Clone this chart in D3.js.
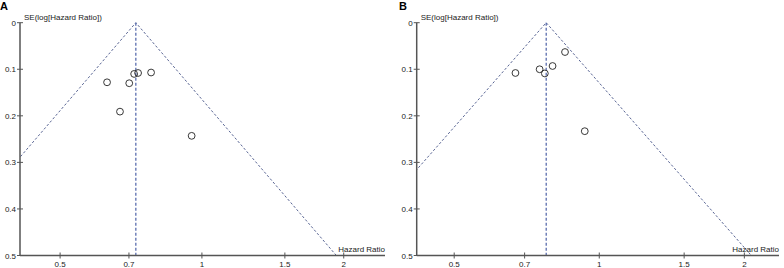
<!DOCTYPE html>
<html>
<head>
<meta charset="utf-8">
<script src="https://cdn.jsdelivr.net/npm/d3@7"></script>
<style>
  body { margin: 0; background: #fff; }
  text { font-family: "Liberation Sans", Arial, sans-serif; }
</style>
</head>
<body>
<script>
const WIDTH = 784;
const HEIGHT = 268;

// Estudios de cada panel (HR, SE del log HR)
const hrA = [0.629, 0.701, 0.718, 0.732, 0.780, 0.670, 0.951];
const seA = [0.128, 0.130, 0.110, 0.108, 0.107, 0.191, 0.243];
const pooledA = 0.724;

const hrB = [0.670, 0.752, 0.771, 0.800, 0.849, 0.933];
const seB = [0.108, 0.100, 0.109, 0.093, 0.063, 0.233];
const pooledB = 0.776;

const xTicks = [0.5, 0.7, 1, 1.5, 2];
const yTicks = [0, 0.1, 0.2, 0.3, 0.4, 0.5];

const SVG = d3.select("body")
  .append("svg")
  .attr("width", WIDTH)
  .attr("height", HEIGHT);

const dibujarPanel = (cfg) => {
  const x = d3.scaleLog().domain(cfg.dominio).range([cfg.left, cfg.right]);
  const y = d3.scaleLinear().domain([0, 0.5]).range([22.7, 255.5]);

  const g = SVG.append("g");

  // recorte del area del grafico
  const clipId = "clip" + cfg.label;
  g.append("clipPath").attr("id", clipId)
    .append("rect")
    .attr("x", cfg.left).attr("y", 0)
    .attr("width", cfg.right - cfg.left).attr("height", y(0.5));

  const lp = Math.log(cfg.pooled);
  const embudo = [
    [Math.exp(lp - 1.96 * 0.5), 0.5],
    [cfg.pooled, 0],
    [Math.exp(lp + 1.96 * 0.5), 0.5]
  ];
  const linea = d3.line().x((d) => x(d[0])).y((d) => y(d[1]));

  g.append("path")
    .attr("clip-path", `url(#${clipId})`)
    .attr("d", linea(embudo))
    .attr("fill", "none")
    .attr("stroke", "#5a6694")
    .attr("stroke-width", 1)
    .attr("stroke-dasharray", "2.5,2");

  g.append("line")
    .attr("x1", x(cfg.pooled)).attr("x2", x(cfg.pooled))
    .attr("y1", y(0)).attr("y2", y(0.5))
    .attr("stroke", "#4e62a8")
    .attr("stroke-width", 1.2)
    .attr("stroke-dasharray", "3,2");

  // ejes
  const colorEje = "#555";
  g.append("line")
    .attr("x1", cfg.left).attr("x2", cfg.left)
    .attr("y1", y(0)).attr("y2", y(0.5))
    .attr("stroke", colorEje).attr("stroke-width", 1.5);
  g.append("line")
    .attr("x1", cfg.left).attr("x2", cfg.right)
    .attr("y1", y(0.5)).attr("y2", y(0.5))
    .attr("stroke", colorEje).attr("stroke-width", 1.5);

  g.selectAll(".ty").data(yTicks).join("line")
    .attr("x1", cfg.left - 3).attr("x2", cfg.left + 3)
    .attr("y1", (d) => y(d)).attr("y2", (d) => y(d))
    .attr("stroke", colorEje).attr("stroke-width", 1);
  g.selectAll(".ly").data(yTicks).join("text")
    .attr("x", cfg.left - 4)
    .attr("y", (d) => y(d) + 3)
    .attr("text-anchor", "end")
    .attr("font-size", 8)
    .attr("fill", "#222")
    .text((d) => d === 0 ? "0" : d3.format(".1f")(d));

  g.selectAll(".tx").data(xTicks).join("line")
    .attr("x1", (d) => x(d)).attr("x2", (d) => x(d))
    .attr("y1", y(0.5) - 3).attr("y2", y(0.5) + 3)
    .attr("stroke", colorEje).attr("stroke-width", 1);
  g.selectAll(".lx").data(xTicks).join("text")
    .attr("x", (d) => x(d))
    .attr("y", 266.5)
    .attr("text-anchor", "middle")
    .attr("font-size", 8)
    .attr("fill", "#222")
    .text((d) => d);

  g.append("text")
    .attr("x", cfg.left + 4).attr("y", 20)
    .attr("font-size", 8).attr("fill", "#222")
    .text("SE(log[Hazard Ratio])");
  g.append("text")
    .attr("x", cfg.right).attr("y", 252)
    .attr("text-anchor", "end")
    .attr("font-size", 8).attr("fill", "#222")
    .text("Hazard Ratio");

  g.append("text")
    .attr("x", cfg.labelX).attr("y", 10)
    .attr("font-size", 11).attr("font-weight", "bold")
    .text(cfg.label);

  // estudios
  g.selectAll("circle").data(cfg.hr).join("circle")
    .attr("cx", (d) => x(d))
    .attr("cy", (d, i) => y(cfg.se[i]))
    .attr("r", 3.4)
    .attr("fill", "none")
    .attr("stroke", "#222")
    .attr("stroke-width", 0.9);
};

dibujarPanel({ label: "A", labelX: 0, left: 20, right: 385, dominio: [0.411, 2.447],
  hr: hrA, se: seA, pooled: pooledA });
dibujarPanel({ label: "B", labelX: 399, left: 416.7, right: 779, dominio: [0.418, 2.36],
  hr: hrB, se: seB, pooled: pooledB });
</script>
</body>
</html>
